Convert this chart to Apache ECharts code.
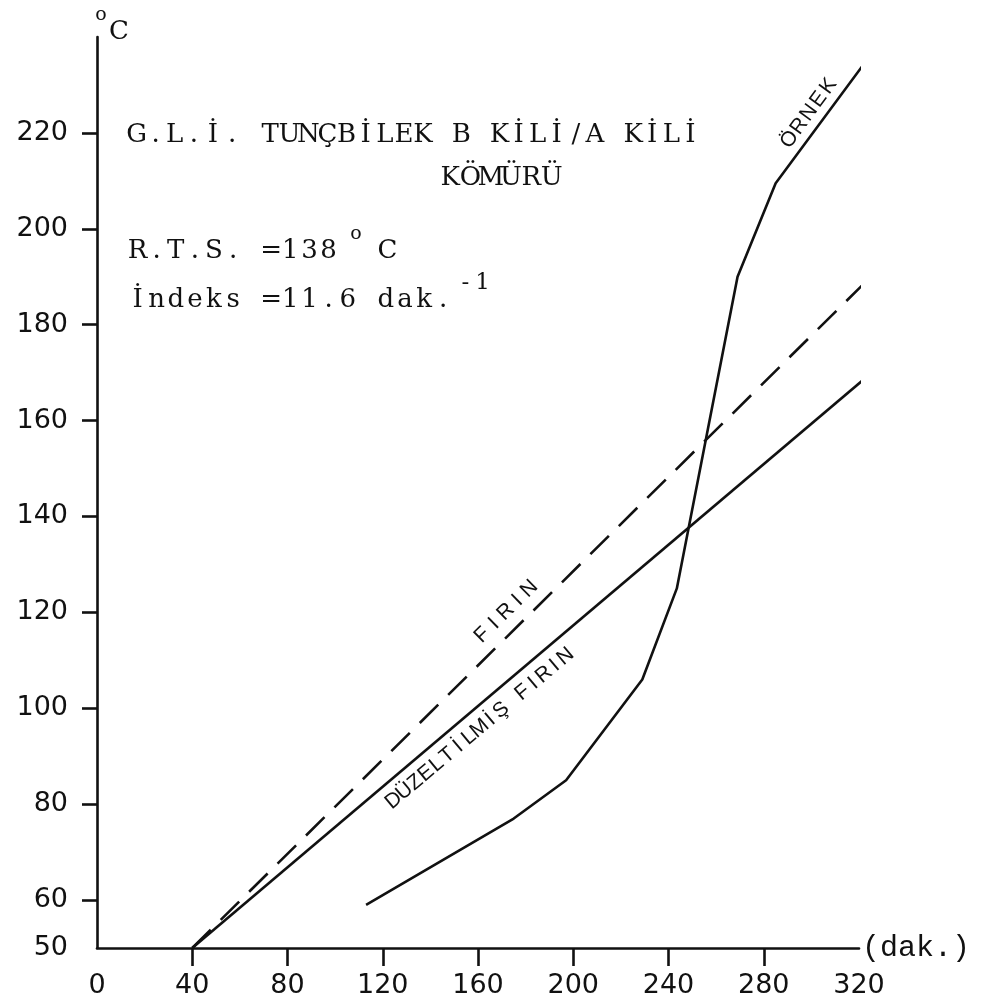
<!DOCTYPE html>
<html><head><meta charset="utf-8">
<script src="https://cdn.jsdelivr.net/npm/echarts@6/dist/echarts.min.js"></script>
<style>html,body{margin:0;padding:0;background:#fff}#c{width:981px;height:1008px}</style>
</head><body><div id="c"></div>
<script>
// ---- data ----
const xLabelValues = [0, 40, 80, 120, 160, 200, 240, 280, 320];
const xTickValues = [40, 80, 120, 160, 200, 240, 280];
const yLabelValues = [50, 60, 80, 100, 120, 140, 160, 180, 200, 220];
const yTickValues = [60, 80, 100, 120, 140, 160, 180, 200, 220];
const firin = [[40, 50], [325, 190]];
const duzeltilmisFirin = [[40, 50], [323, 169]];
const ornek = [[113, 59], [175, 77], [197, 85], [229, 106], [243.5, 125], [269, 190], [285, 209.5], [321.5, 234]];
const lineLabelText = ['DÜZELTİLMİŞ FIRIN', 'FIRIN', 'ÖRNEK'];
const lineLabelAt = [[160.7, 95.8], [171.7, 120.1], [299, 224.2]];
const lineLabelAngle = [40, 44.5, 54];

const mono = '"Liberation Mono", "DejaVu Sans Mono", monospace';
const serif = '"DejaVu Serif", serif';
const sans = '"DejaVu Sans", sans-serif';
const ink = '#111';

const chart = echarts.init(document.getElementById('c'), null, {renderer: 'canvas'});

const lineStyleBase = {color: ink, width: 2.6};
const option = {
  backgroundColor: '#fff',
  animation: false,
  grid: {left: 97, right: 122, top: 37, bottom: 60, containLabel: false},
  xAxis: {
    type: 'value', min: 0, max: 320,
    name: '(dak.)', nameLocation: 'end', nameGap: 3,
    nameTextStyle: {fontFamily: mono, fontSize: 30, color: ink, padding: [20, 0, 0, 0]},
    axisLine: {lineStyle: {color: ink, width: 2.6}},
    axisTick: {show: true, customValues: xTickValues, length: 18, lineStyle: {color: ink, width: 2.6}},
    axisLabel: {customValues: xLabelValues, fontFamily: sans, fontSize: 27, color: ink, margin: 24},
    splitLine: {show: false}
  },
  yAxis: {
    type: 'value', min: 50, max: 240,
    axisLine: {show: true, lineStyle: {color: ink, width: 2.6}},
    axisTick: {show: true, customValues: yTickValues, length: 15, lineStyle: {color: ink, width: 2.6}},
    axisLabel: {customValues: yLabelValues, fontFamily: sans, fontSize: 27, color: ink, margin: 29},
    splitLine: {show: false}
  },
  series: [
    {name: 'FIRIN', type: 'line', data: firin, symbol: 'none', clip: false,
     lineStyle: Object.assign({}, lineStyleBase, {type: [26, 14]})},
    {name: 'DÜZELTİLMİŞ FIRIN', type: 'line', data: duzeltilmisFirin, symbol: 'none', clip: false,
     lineStyle: lineStyleBase},
    {name: 'ÖRNEK', type: 'line', data: ornek, symbol: 'none', clip: false,
     lineStyle: lineStyleBase}
  ]
};
chart.setOption(option);

const graphics = [];
// typewriter row: one glyph per fixed-pitch cell
function typeRow(text, x0, y, pitch, size) {
  Array.from(text).forEach(function (ch, i) {
    if (ch === ' ') return;
    graphics.push({
      type: 'text', x: x0 + i * pitch + pitch / 2, y: y, silent: true,
      style: {text: ch, font: size + 'px ' + serif, fill: ink, textAlign: 'center', textVerticalAlign: 'middle'}
    });
  });
}
const P = 19.1;
typeRow('o', 94, 15, 14, 19);
typeRow('C', 110, 32, 18, 26);
typeRow('G.L.İ. TUNÇBİLEK B KİLİ/A KİLİ', 127, 135, P, 26);
typeRow('KÖMÜRÜ', 440, 178, 20.3, 26);
typeRow('R.T.S. =138', 128, 251, P, 26);
typeRow('o', 348, 234, 16, 19);
typeRow('C', 377, 251, 21, 26);
typeRow('İndeks =11.6 dak.', 128, 300, P, 26);
typeRow('-1', 457, 283, 17, 23);

// labels written along the curves, anchored to data coordinates
const lineLabelPitch = [14, 16.5, 16.5];
lineLabelText.forEach(function (t, i) {
  const c = chart.convertToPixel({gridIndex: 0}, lineLabelAt[i]);
  const a = lineLabelAngle[i] * Math.PI / 180;
  const chars = Array.from(t);
  const n = chars.length;
  chars.forEach(function (ch, k) {
    if (ch === ' ') return;
    const d = (k - (n - 1) / 2) * lineLabelPitch[i];
    graphics.push({
      type: 'text', x: c[0] + d * Math.cos(a), y: c[1] - d * Math.sin(a), rotation: a, silent: true,
      style: {text: ch, font: '21px "Liberation Sans", sans-serif', fill: ink, textAlign: 'center', textVerticalAlign: 'middle'}
    });
  });
});

chart.setOption({graphic: graphics});
</script>
</body></html>
